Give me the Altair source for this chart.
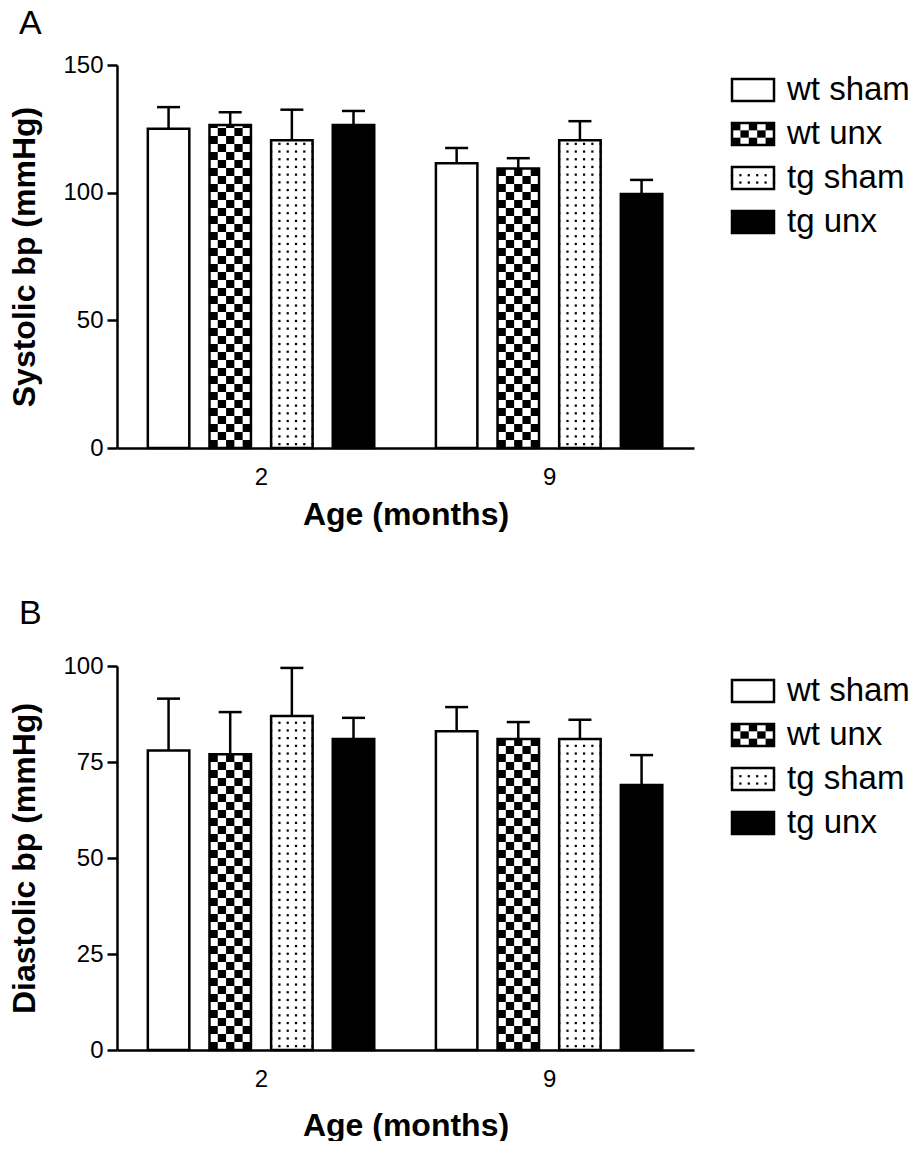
import math
import altair as alt
import pandas as pd

# ---------------- data ----------------
series = ["wt sham", "wt unx", "tg sham", "tg unx"]
ages = ["2", "9"]

sys_mean_2 = [125, 126.5, 120.5, 126.5]
sys_mean_9 = [111.5, 109.5, 120.5, 99.5]
sys_sem_2 = [8.5, 5.0, 12.0, 5.5]
sys_sem_9 = [6.0, 4.0, 7.5, 5.5]

dia_mean_2 = [78, 77, 87, 81]
dia_mean_9 = [83, 81, 81, 69]
dia_sem_2 = [13.5, 11.0, 12.5, 5.5]
dia_sem_9 = [6.3, 4.4, 5.0, 7.8]

sys_ticks = [0, 50, 100, 150]
dia_ticks = [0, 25, 50, 75, 100]

# ---------------- style / layout ----------------
FONT = "Liberation Sans"
PATTERN = {"wt sham": "white", "wt unx": "checker", "tg sham": "dots", "tg unx": "black"}
PLOT_W = 577
X_DOMAIN = [-0.5, 1.503]
SLOT = 0.214
BAR_W = 0.144
NCOL = 5
LW = 2.5


def bar_table(means_by_age, sems_by_age):
    rows = []
    for g, age in enumerate(ages):
        for s, name in enumerate(series):
            c = g + (s - 1.5) * SLOT
            m = means_by_age[g][s]
            e = sems_by_age[g][s]
            rows.append(dict(age=age, series=name, pat=PATTERN[name], xc=c,
                             x1=c - BAR_W / 2, x2=c + BAR_W / 2,
                             mean=m, top=m + e, zero=0))
    return pd.DataFrame(rows)


def checker_cells(df, cell_h):
    out = []
    for _, r in df[df.pat == "checker"].iterrows():
        cw = (r["x2"] - r["x1"]) / NCOL
        top = r["mean"]
        nrow = int(math.ceil(top / cell_h - 1e-9))
        for i in range(nrow):
            for j in range(NCOL):
                if (i + j) % 2 == 0:
                    out.append(dict(cx1=r["x1"] + j * cw, cx2=r["x1"] + (j + 1) * cw,
                                    cy1=i * cell_h, cy2=min((i + 1) * cell_h, top)))
    return pd.DataFrame(out, columns=["cx1", "cx2", "cy1", "cy2"])


def dot_cells(df, dot_h):
    out = []
    for _, r in df[df.pat == "dots"].iterrows():
        cw = (r["x2"] - r["x1"]) / NCOL
        top = r["mean"]
        i = 0
        while (i + 0.5) * dot_h < top:
            for j in range(NCOL + 1):
                out.append(dict(dx=r["x1"] + j * cw, dy=(i + 0.5) * dot_h))
            i += 1
    return pd.DataFrame(out, columns=["dx", "dy"])


def legend_layer():
    leg = pd.DataFrame(dict(series=series, pat=[PATTERN[s] for s in series],
                            row=list(range(len(series)))))
    leg["y0"] = leg["row"] + 0.25
    leg["y1"] = leg["row"] - 0.25
    leg["lx1"] = 0.0
    leg["lx2"] = 1.0
    lxs = alt.Scale(domain=[0, 1], range=[615, 657], nice=False, zero=False)
    lys = alt.Scale(domain=[0, 3], range=[25, 157], nice=False, zero=False)

    lc = []
    for _, r in leg[leg.pat == "checker"].iterrows():
        for i in range(3):
            for j in range(NCOL):
                if (i + j) % 2 == 0:
                    lc.append(dict(cx1=j / NCOL, cx2=(j + 1) / NCOL,
                                   cy1=r["y1"] + i / 6.0, cy2=r["y1"] + (i + 1) / 6.0))
    lc = pd.DataFrame(lc)
    ld = []
    for _, r in leg[leg.pat == "dots"].iterrows():
        for i in range(2):
            for j in range(NCOL + 1):
                ld.append(dict(dx=j / NCOL, dy=r["y1"] + (i + 1) / 6.0 + 0.02))
    ld = pd.DataFrame(ld)

    lbase = alt.Chart(leg)
    lfill = lbase.mark_rect(stroke=None).encode(
        x=alt.X("lx1:Q", scale=lxs, axis=None), x2="lx2:Q",
        y=alt.Y("y1:Q", scale=lys, axis=None), y2="y0:Q",
        fill=alt.Fill("pat:N", scale=alt.Scale(
            domain=["white", "checker", "dots", "black"],
            range=["white", "white", "white", "black"]), legend=None))
    lchk = alt.Chart(lc).mark_rect(fill="black", stroke=None).encode(
        x="cx1:Q", x2="cx2:Q", y="cy1:Q", y2="cy2:Q")
    ldts = alt.Chart(ld).mark_square(size=5, fill="black", opacity=1, stroke=None).encode(
        x="dx:Q", y="dy:Q")
    lout = lbase.mark_rect(fill=None, stroke="black", strokeWidth=LW).encode(
        x="lx1:Q", x2="lx2:Q", y="y1:Q", y2="y0:Q")
    ltxt = lbase.mark_text(align="left", baseline="middle", dx=13, fontSize=33,
                           font=FONT, color="black").encode(
        x=alt.X("lx2:Q"), y=alt.Y("row:Q"), text="series:N")
    return alt.layer(lfill, lchk, ldts, lout, ltxt)


def panel(letter, means, sems, ticks, ytitle, plot_h, title_offset, xtitle_pad):
    ymax = ticks[-1]
    df = bar_table(means, sems)
    px_per_unit = plot_h / ymax
    cells = checker_cells(df, 8.0 / px_per_unit)
    dots = dot_cells(df, 7.7 / px_per_unit)

    xs = alt.Scale(domain=X_DOMAIN, nice=False, zero=False)
    ys = alt.Scale(domain=[0, ymax], nice=False)

    xaxis = alt.Axis(values=[0, 1], labelExpr="datum.value == 0 ? '2' : '9'",
                     ticks=False, tickSize=0, grid=False, title="Age (months)",
                     labelPadding=17, titlePadding=xtitle_pad, domainWidth=LW,
                     domainColor="black", labelFontSize=24, labelColor="black",
                     titleFontSize=32, titleFontWeight="bold", labelFlush=False)
    yaxis = alt.Axis(values=ticks, grid=False, title=ytitle, tickSize=10,
                     tickWidth=LW, tickColor="black", domainWidth=LW,
                     domainColor="black", labelFontSize=24, labelColor="black",
                     labelPadding=4, titlePadding=21, titleFontSize=32,
                     titleFontWeight="bold")

    base = alt.Chart(df)
    fills = base.mark_rect(stroke=None).encode(
        x=alt.X("x1:Q", scale=xs, axis=xaxis), x2="x2:Q",
        y=alt.Y("mean:Q", scale=ys, axis=yaxis), y2="zero:Q",
        fill=alt.Fill("pat:N", scale=alt.Scale(
            domain=["white", "checker", "dots", "black"],
            range=["white", "white", "white", "black"]), legend=None))
    chk = alt.Chart(cells).mark_rect(fill="black", stroke=None).encode(
        x="cx1:Q", x2="cx2:Q", y="cy1:Q", y2="cy2:Q")
    dts = alt.Chart(dots).mark_square(size=5, fill="black", opacity=1, stroke=None).encode(
        x="dx:Q", y="dy:Q")
    outline = base.mark_rect(fill=None, stroke="black", strokeWidth=LW).encode(
        x="x1:Q", x2="x2:Q", y="mean:Q", y2="zero:Q")
    err = base.mark_rule(color="black", strokeWidth=LW).encode(
        x="xc:Q", y="mean:Q", y2="top:Q")
    cap = base.mark_tick(orient="horizontal", color="black", size=23,
                         thickness=LW, opacity=1).encode(x="xc:Q", y="top:Q")
    main = alt.layer(fills, chk, dts, outline, err, cap)

    return alt.layer(main, legend_layer()).resolve_scale(
        x="independent", y="independent", fill="independent").properties(
        width=PLOT_W, height=plot_h,
        title=alt.Title(letter, anchor="start", frame="group", fontSize=34,
                        font=FONT, fontWeight="normal", color="black",
                        dx=-98, offset=title_offset))


chart_a = panel("A", [sys_mean_2, sys_mean_9], [sys_sem_2, sys_sem_9],
                sys_ticks, "Systolic bp (mmHg)", 383, 12, 10)
chart_b = panel("B", [dia_mean_2, dia_mean_9], [dia_sem_2, dia_sem_9],
                dia_ticks, "Diastolic bp (mmHg)", 384, 23, 19)

chart = alt.vconcat(chart_a, chart_b, spacing=67).properties(
    padding={"left": 8, "top": 7, "right": 0, "bottom": 0}
).configure(font=FONT).configure_view(stroke=None).configure_axis(
    labelFont=FONT, titleFont=FONT, titleColor="black")

chart.save("out.html", embed_options={"renderer": "svg", "actions": False})
